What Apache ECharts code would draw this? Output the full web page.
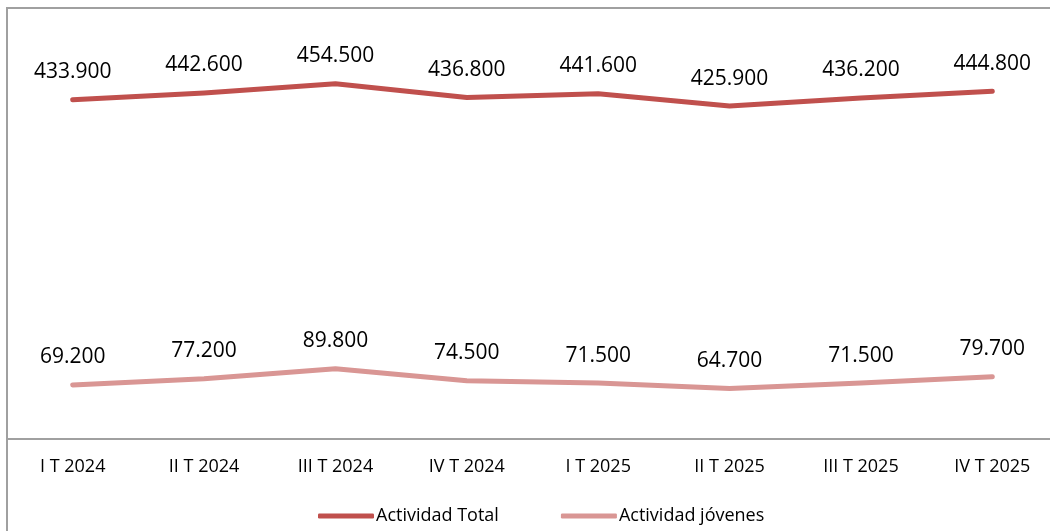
<!DOCTYPE html>
<html><head><meta charset="utf-8">
<script src="https://cdn.jsdelivr.net/npm/echarts@6/dist/echarts.min.js"></script>
<style>html,body{margin:0;padding:0;background:#fff}#c{width:1050px;height:531px}</style>
</head><body><div id="c"></div>
<script>
const categories = ['I T 2024','II T 2024','III T 2024','IV T 2024','I T 2025','II T 2025','III T 2025','IV T 2025'];
const actividadTotal = [433.9, 442.6, 454.5, 436.8, 441.6, 425.9, 436.2, 444.8];
const actividadJovenes = [69.2, 77.2, 89.8, 74.5, 71.5, 64.7, 71.5, 79.7];
const seriesNames = ['Actividad Total', 'Actividad jóvenes'];
const fmt = v => v.toFixed(3);
const font = 'Open Sans';
const chart = echarts.init(document.getElementById('c'));
chart.setOption({
  animation: false,
  textStyle: {fontFamily: font},
  graphic: [{type:'rect', shape:{x:7, y:8, width:1100, height:600}, style:{fill:'none', stroke:'#a0a0a0', lineWidth:2}, z:-1}],
  grid: {left: 7, top: 9, width: 1051, bottom: 92, outerBoundsMode: 'none', containLabel: false},
  xAxis: {type:'category', data: categories, boundaryGap: true,
    axisLine:{lineStyle:{color:'#a0a0a0', width:2}}, axisTick:{show:false},
    axisLabel:{color:'#000', fontSize:18, margin:19, fontFamily: font}},
  yAxis: {type:'value', min:0, max:550, show:false, splitLine:{show:false}},
  legend: {bottom: 1, left: 313, icon:'roundRect', itemWidth:56, itemHeight:5, itemGap:62,
    textStyle:{fontSize:18, color:'#000', fontFamily: font, padding:[0,0,0,-3]}, data: seriesNames},
  series: [
    {name: seriesNames[0], type:'line', data: actividadTotal, symbol:'circle', symbolSize:0, showSymbol:true,
     lineStyle:{color:'#C0504D', width:5, cap:'round', join:'round'}, itemStyle:{color:'#C0504D'},
     label:{show:true, position:'top', distance:17, formatter:p=>fmt(p.value), fontSize:21, color:'#000', fontFamily: font}},
    {name: seriesNames[1], type:'line', data: actividadJovenes, symbol:'circle', symbolSize:0, showSymbol:true,
     lineStyle:{color:'#D99694', width:5, cap:'round', join:'round'}, itemStyle:{color:'#D99694'},
     label:{show:true, position:'top', distance:17, formatter:p=>fmt(p.value), fontSize:21, color:'#000', fontFamily: font}}
  ]
});
</script></body></html>
